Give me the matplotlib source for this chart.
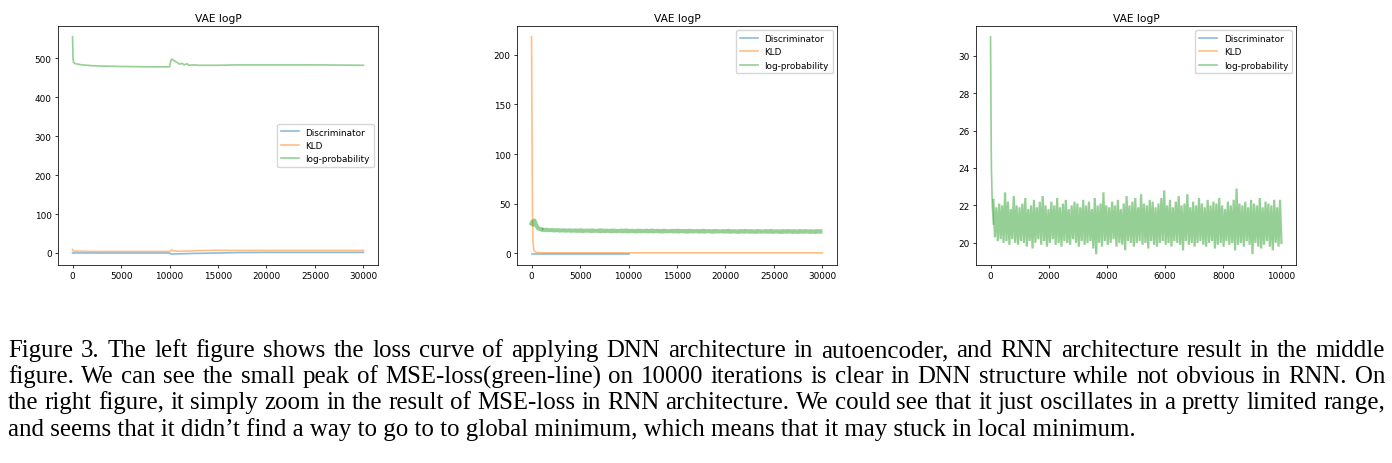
import numpy as np
import matplotlib
matplotlib.use("Agg")
import matplotlib.pyplot as plt

#left panel (DNN): loss curves
it1   = [0, 50, 100, 200, 500, 1000, 2000, 3000, 5000, 8000, 10000, 10100, 10200, 10400, 10600,
         10800, 11000, 11300, 11500, 11800, 12000, 12500, 13000, 15000, 17000, 20000, 25000, 30000]
logp1 = [555, 500, 490, 487, 485, 483, 481, 480, 479, 478, 478, 490, 498, 495, 492,
         489, 485, 487, 483, 486, 482, 483, 482, 482, 483, 483, 483, 482]
kld1  = [9, 6, 5, 5, 4.5, 4.5, 4, 4, 4, 4, 4, 5, 7.5, 6, 5,
         4.5, 4.5, 4.5, 5, 5, 5, 5.5, 6, 7, 6.5, 6.5, 6.5, 6.5]
disc1 = [0, 0, 0, 0, 0, 0, 0, 0, 0, 0, 0, -2, -3, -3, -2.5,
         -2.5, -2, -2, -2, -1.5, -1.5, -1, -1, 0, 1, 1.5, 1.5, 1.5]

#middle panel (RNN)
it2k  = [0, 50, 100, 150, 200, 300, 500, 1000, 30000]
kld2  = [218, 120, 40, 12, 5, 2, 1, 0.5, 0.5]
it2d  = [0, 10000]
disc2 = [-0.8, -0.8]
it2s  = [0, 100, 200, 300, 400, 500, 700, 1000]
logp2s = [30, 32, 29, 33, 30, 28, 25, 24]
hi2 = [26.0, 25.6, 25.8, 25.3, 25.5, 25.2, 25.4, 25.0, 25.3, 24.9,
       25.2, 24.8, 25.1, 24.9, 25.3, 24.7, 25.0, 24.8, 25.1, 24.6,
       24.9, 25.2, 24.7, 24.9, 24.6, 25.0, 24.8, 24.5, 24.9, 24.7,
       25.1, 24.6, 24.8, 24.5, 24.9, 24.7, 24.4, 24.8, 24.6, 25.0,
       24.5, 24.7, 24.4, 24.8, 24.6, 24.3, 24.7, 24.5, 24.9, 24.4,
       24.6, 24.3, 24.7, 24.5, 24.2, 24.6, 24.4, 24.8, 24.3, 24.5,
       24.2, 24.6, 24.4, 24.1, 24.5, 24.3, 24.7, 24.2, 24.4, 24.1,
       24.5, 24.3, 24.6, 24.2, 24.4, 24.1, 24.5, 24.3, 24.0, 24.4,
       24.2, 24.6, 24.1, 24.3, 24.0, 24.4, 24.2, 24.5, 24.1, 24.3,
       24.0, 24.4, 24.2, 24.5, 24.1, 24.3, 24.0, 24.4, 24.2, 24.4]
lo2 = [21.8, 21.5, 21.2, 21.4, 21.0, 21.3, 20.9, 21.1, 20.8, 21.0,
       20.7, 20.9, 20.6, 20.8, 20.5, 20.7, 20.9, 20.4, 20.6, 20.8,
       20.3, 20.6, 20.4, 20.7, 20.2, 20.5, 20.3, 20.6, 20.2, 20.4,
       20.1, 20.5, 20.3, 20.0, 20.4, 20.2, 20.5, 20.1, 20.3, 20.0,
       20.4, 20.2, 19.9, 20.3, 20.1, 20.4, 20.0, 20.2, 19.9, 20.3,
       20.1, 19.8, 20.2, 20.0, 20.3, 19.9, 20.1, 19.8, 20.2, 20.0,
       19.7, 20.1, 19.9, 20.2, 19.8, 20.0, 19.7, 20.1, 19.9, 19.6,
       20.0, 19.8, 20.1, 19.7, 19.9, 19.6, 20.0, 19.8, 20.1, 19.7,
       19.9, 19.6, 20.0, 19.8, 19.5, 19.9, 19.7, 20.0, 19.6, 19.8,
       19.5, 19.9, 19.7, 20.0, 19.6, 19.8, 19.5, 19.9, 19.7, 19.8]

#right panel (RNN, zoomed log-probability)
it3s   = [0, 15, 30, 60, 100]
logp3s = [31, 27, 24, 22, 21]
hi3 = [22.3, 21.9, 22.1, 22.0, 22.7, 22.2, 21.8, 22.5, 22.0, 21.9,
       22.1, 22.4, 21.8, 22.0, 22.3, 21.9, 22.2, 22.5, 22.0, 21.8,
       22.2, 22.0, 22.4, 21.9, 22.1, 22.3, 21.8, 22.0, 22.2, 22.1,
       21.9, 22.3, 22.0, 22.2, 21.8, 22.4, 22.0, 22.1, 22.7, 22.0,
       21.9, 22.2, 22.0, 22.3, 21.8, 22.1, 22.5, 22.0, 22.2, 22.4,
       21.9, 22.6, 22.1, 22.0, 22.3, 22.2, 21.9, 22.1, 22.4, 22.8,
       22.0, 22.3, 21.9, 22.2, 22.5, 22.0, 22.1, 22.6, 21.9, 22.2,
       22.0, 22.4, 22.1, 21.9, 22.3, 22.0, 22.2, 22.1, 22.4, 22.0,
       21.8, 22.2, 22.0, 22.3, 22.9, 22.1, 22.0, 22.2, 21.9, 22.3,
       22.1, 22.0, 22.4, 21.9, 22.2, 22.1, 22.0, 22.3, 21.9, 22.3]
lo3 = [20.3, 20.1, 20.2, 20.0, 20.1, 19.9, 20.2, 20.0, 19.9, 20.1,
       20.0, 19.8, 20.1, 19.7, 20.0, 20.2, 19.9, 20.1, 19.8, 20.0,
       20.2, 19.9, 20.0, 19.8, 20.1, 20.0, 19.9, 20.2, 20.0, 19.8,
       20.1, 19.9, 20.0, 20.1, 19.7, 19.4, 20.0, 19.8, 20.1, 19.9,
       20.0, 20.2, 19.8, 20.0, 19.9, 19.6, 20.1, 20.0, 19.8, 20.0,
       20.1, 19.9, 20.0, 19.7, 20.1, 19.9, 19.8, 20.0, 20.1, 19.9,
       20.0, 19.8, 20.1, 20.0, 19.9, 19.6, 20.1, 19.9, 20.0, 19.8,
       20.0, 20.1, 19.9, 19.8, 20.0, 20.1, 19.7, 19.9, 20.0, 19.8,
       20.1, 19.9, 20.0, 19.6, 19.9, 20.0, 19.8, 20.1, 19.9, 19.4,
       20.0, 19.8, 19.7, 19.9, 20.1, 19.8, 19.6, 20.0, 19.8, 20.0]

labels = ["Discriminator", "KLD", "log-probability"]
title = "VAE logP"

caption = [
    "Figure 3. The left figure shows the loss curve of applying DNN architecture in autoencoder, and RNN architecture result in the middle",
    "figure.  We can see the small peak of MSE-loss(green-line) on 10000 iterations is clear in DNN structure while not obvious in RNN. On",
    "the right figure, it simply zoom in the result of MSE-loss in RNN architecture. We could see that it just oscillates in a pretty limited range,",
    "and seems that it didn\u2019t find a way to go to to global minimum, which means that it may stuck in local minimum.",
]

W, H = 1392, 464
FS = 6.4
LW = 1.2
COLS = ["tab:blue", "tab:orange", "tab:green"]

plt.rcParams.update({
    "font.size": FS,
    "axes.linewidth": 0.55,
    "xtick.major.size": 2.3, "ytick.major.size": 2.3,
    "xtick.major.width": 0.55, "ytick.major.width": 0.55,
    "xtick.major.pad": 2.3, "ytick.major.pad": 2.3,
    "axes.titlesize": FS * 1.2, "axes.titlepad": 3.9,
    "legend.fontsize": FS,
})

def makeAxes(fig, left):
    ax = fig.add_axes([left / W, (H - 266) / H, 320 / W, 239 / H])
    ax.set_title(title)
    return ax
#makeAxes

#thin noisy stretch: outline through the peaks, back through the troughs
def band(ax, x0, x1, hi, lo, col):
    xh = np.linspace(x0, x1, len(hi))
    xl = xh + (xh[1] - xh[0]) / 2
    xl[-1] = x1
    ax.fill(np.concatenate([xh, xl[::-1]]), np.concatenate([hi, lo[::-1]]),
            color=col, alpha=0.5, lw=0)
#band

#wide noisy stretch: one trace bouncing between the peaks and the troughs
def zigzag(ax, x0, x1, hi, lo, col, lw):
    y = []
    for a, b in zip(hi, lo):
        y.append(a)
        y.append(b)
    x = np.linspace(x0, x1, len(y))
    ax.plot(x, y, color=col, alpha=0.5, lw=lw, solid_joinstyle="miter")
#zigzag

def justifyLine(fig, renderer, text, y, x0, x1, fs, justify):
    family = "Liberation Serif"
    if not justify:
        fig.text(x0 / W, y, text, fontsize=fs, family=family, va="baseline")
        return
    words = text.split()
    ts = [fig.text(0, y, w, fontsize=fs, family=family, va="baseline") for w in words]
    widths = [t.get_window_extent(renderer).width for t in ts]
    gap = (x1 - x0 - sum(widths)) / (len(words) - 1)
    x = x0
    for t, w in zip(ts, widths):
        t.set_x(x / W)
        x += w + gap
#justifyLine

def main():
    fig = plt.figure(figsize=(W / 100, H / 100), dpi=100)

    #DNN
    ax1 = makeAxes(fig, 58)
    ax1.plot(it1, disc1, color=COLS[0], alpha=0.5, lw=LW, label=labels[0])
    ax1.plot(it1, kld1, color=COLS[1], alpha=0.5, lw=LW, label=labels[1])
    ax1.plot(it1, logp1, color=COLS[2], alpha=0.5, lw=LW, label=labels[2])
    ax1.legend(loc="center right")

    #RNN
    ax2 = makeAxes(fig, 517)
    ax2.plot(it2d, disc2, color=COLS[0], alpha=0.5, lw=LW, label=labels[0])
    ax2.plot(it2k, kld2, color=COLS[1], alpha=0.5, lw=LW, label=labels[1])
    ax2.plot(it2s, logp2s, color=COLS[2], alpha=0.5, lw=LW * 2.5, label=labels[2])
    band(ax2, it2s[-1], 30000, hi2, lo2, COLS[2])
    leg = ax2.legend(loc="upper right")
    leg.get_lines()[2].set_linewidth(LW)

    #RNN zoomed
    ax3 = makeAxes(fig, 976)
    ax3.plot([], [], color=COLS[0], alpha=0.5, lw=LW, label=labels[0])
    ax3.plot([], [], color=COLS[1], alpha=0.5, lw=LW, label=labels[1])
    ax3.plot(it3s, logp3s, color=COLS[2], alpha=0.5, lw=LW, label=labels[2])
    zigzag(ax3, it3s[-1], 10000, hi3, lo3, COLS[2], 1.6)
    ax3.legend(loc="upper right")

    #caption, justified like the paper
    renderer = fig.canvas.get_renderer()
    probe = fig.text(0, 0, caption[-1], fontsize=14, family="Liberation Serif")
    fs = 14 * 1135 / probe.get_window_extent(renderer).width
    probe.remove()
    for k, line in enumerate(caption):
        y = 1 - (357 + 26.2 * k) / H
        justifyLine(fig, renderer, line, y, 8, 1385, fs, k < len(caption) - 1)

    fig.savefig("out.png", dpi=100)
#main

if __name__ == "__main__":
    main()
#if
